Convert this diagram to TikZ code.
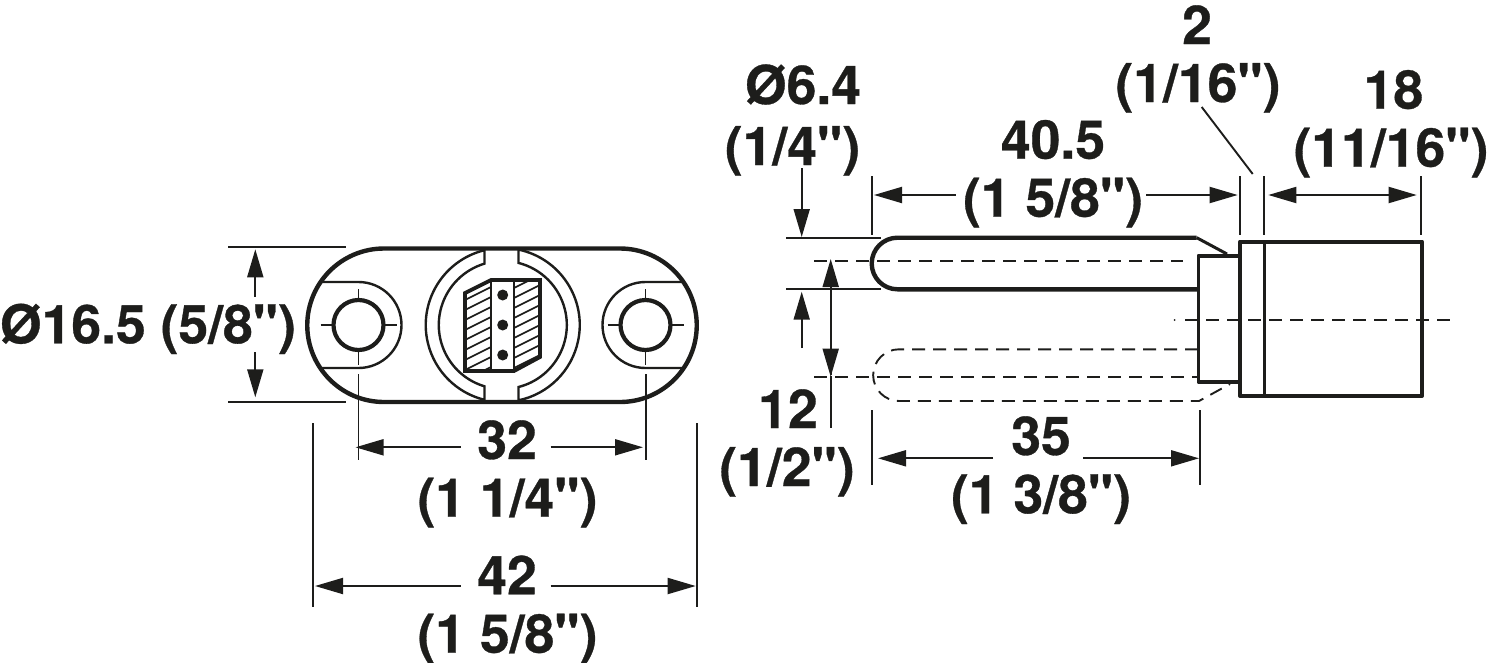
\documentclass[tikz,border=0pt]{standalone}
\usepackage{fontspec}
\newfontfamily\labfont[BoldFeatures={FakeBold=0.6}]{TeX Gyre Heros}
\usetikzlibrary{arrows.meta}
\definecolor{ink}{HTML}{1D1D1B}
\tikzset{
  thick line/.style={line width=4.4pt,line join=round,color=ink},
  mid line/.style={line width=2.4pt,color=ink},
  thin line/.style={line width=1.9pt,color=ink},
  dim/.style={line width=1.9pt,color=ink,-{Triangle[length=28pt,width=16pt]}},
  dashline/.style={line width=1.9pt,color=ink,dash pattern=on 13pt off 8pt},
  lab/.style={anchor=base,inner sep=0pt,outer sep=0pt,text=ink,font=\fontsize{53.5pt}{53.5pt}\labfont\bfseries},
}
\begin{document}
\begin{tikzpicture}[x=1pt,y=-1pt]
\useasboundingbox (0,0) rectangle (1488,662);
% ---- left view: plate
\draw[thick line] (384,248.5) -- (620,248.5) arc[start angle=-90,end angle=90,radius=76.75] -- (384,402) arc[start angle=90,end angle=270,radius=76.75] -- cycle;
% counterbores
\draw[mid line] (320,282) -- (358.5,282) arc[start angle=-90,end angle=90,radius=43] -- (320,368);
\draw[mid line] (684,282) -- (645.5,282) arc[start angle=-90,end angle=-270,radius=43] -- (684,368);
% holes
\draw[line width=4.2pt,color=ink] (358.5,325) circle[radius=25];
\draw[line width=4.2pt,color=ink] (645.5,325) circle[radius=25];
% ticks
\foreach \c in {358.5,645.5}{
  \draw[thin line] (\c-38,325) -- (\c-26,325);
  \draw[thin line] (\c+26,325) -- (\c+38,325);
  \draw[thin line] (\c,289) -- (\c,299);
  \draw[thin line] (\c,351) -- (\c,365);
}
% centre rings
\begin{scope}[shift={(502.8,325)}]
\draw[mid line] (-18.3,-74.8) arc[start angle=256.3,end angle=103.7,radius=77] -- (-18.3,61.3) arc[start angle=106.6,end angle=253.4,radius=64] -- cycle;
\draw[mid line] (15.7,-75.4) arc[start angle=-78.2,end angle=78.2,radius=77] -- (15.7,62) arc[start angle=75.8,end angle=-75.8,radius=64] -- cycle;
\end{scope}
% hatching
\begin{scope}
\clip (465,293) -- (491,280) -- (491,371) -- (465,371) -- cycle;
\foreach \y in {300,310,...,390}{\draw[line width=1.6pt,color=ink] (460,\y+2.5) -- (495,\y-15);}
\end{scope}
\begin{scope}
\clip (514,280) -- (540,280) -- (540,357) -- (514,371) -- cycle;
\foreach \y in {288,298,...,378}{\draw[line width=1.6pt,color=ink] (510,\y+2) -- (545,\y-15.5);}
\end{scope}
\draw[line width=3.8pt,color=ink,line join=miter] (465,293) -- (491,280) -- (540,280) -- (540,357) -- (514,371) -- (465,371) -- cycle;
\draw[mid line] (491,280) -- (491,371) (514,280) -- (514,371);
\fill[ink] (502.7,295) circle[radius=5.5] (502.7,325) circle[radius=5.5] (502.7,355) circle[radius=5.5];
% left dimensions
\draw[thin line] (228,247.3) -- (346,247.3) (228,402) -- (346,402);
\draw[dim] (255.3,296.7) -- (255.3,249.3);
\draw[dim] (255.3,352.3) -- (255.3,397.3);
\draw[thin line] (358.5,374) -- (358.5,459.7) (645.7,374) -- (645.7,459.7);
\draw[dim] (460.7,447.3) -- (355.5,447.3);
\draw[dim] (550.7,447.3) -- (643,447.3);
\draw[thin line] (312.7,423) -- (312.7,607) (696.7,423) -- (696.7,607);
\draw[dim] (460.7,586) -- (315,586);
\draw[dim] (550.7,586) -- (695.7,586);
% ---- right view: centre and phantom lines
\draw[dashline] (814,261) -- (1183,261);
\draw[dashline] (814,376.7) -- (1198,376.7);
\draw[dashline] (1185,320) -- (1452,320);
\fill[ink] (1174.5,320) circle[radius=1];
% pin
\draw[thick line,line cap=butt] (1196.7,237.7) -- (897.5,237.7) arc[start angle=-90,end angle=-270,radius=25.8] -- (1198,289.3);
\draw[mid line,line width=3pt] (1196.7,237.7) -- (1227,254);
% phantom pin
\draw[dashline] (1198,349.3) -- (899,349.3) arc[start angle=-90,end angle=-270,radius=25.85] -- (1199,401) -- (1230,384);
% collar
\draw[line width=3.6pt,color=ink,line join=round] (1240,255.7) -- (1198.3,255.7) -- (1198.3,382) -- (1240,382);
% body
\draw[thick line] (1240,241.7) rectangle (1422,395.7);
\draw[mid line] (1264.3,241.7) -- (1264.3,395.7);
% right dimensions
\draw[thin line] (786,237.7) -- (881,237.7) (786,289.3) -- (881,289.3);
\draw[dim] (801.7,168) -- (801.7,237);
\draw[dim] (801.7,348) -- (801.7,291.7);
\draw[dim] (830.7,375) -- (830.7,259);
\draw[dim] (830.7,292) -- (830.7,376.7);
\draw[thin line] (830.7,376) -- (830.7,428);
\draw[thin line] (871.7,176) -- (871.7,235) (1240.3,176) -- (1240.3,235) (1264,176) -- (1264,235) (1420.7,176) -- (1420.7,235);
\draw[dim] (955.7,195) -- (874,195);
\draw[dim] (1146,195) -- (1237.7,195);
\draw[dim] (1342,195) -- (1268.3,195);
\draw[dim] (1342,195) -- (1416.7,195);
\draw[thin line] (1201.7,107) -- (1252.7,174);
\draw[thin line] (871.7,410) -- (871.7,485) (1199.7,410) -- (1199.7,485);
\draw[dim] (993,458.3) -- (878,458.3);
\draw[dim] (1083,458.3) -- (1199,458.3);
% ---- labels
\node[lab,anchor=base west] (d165) at (0,343.3) {Ø16.5 (5/8")};
\node[lab] (d32) at (507,459) {32};
\node[lab] (i32) at (507.5,516.7) {(1 1/4")};
\node[lab] (d42) at (507,594.3) {42};
\node[lab] (i42) at (507.5,652.7) {(1 5/8")};
\node[lab] (d64) at (803,104) {Ø6.4};
\node[lab] (i64) at (792.5,165) {(1/4")};
\node[lab] (d405) at (1053,158.7) {40.5};
\node[lab] (i405) at (1053,216.7) {(1 5/8")};
\node[lab] (d2) at (1197,44) {2};
\node[lab] (i2) at (1198,102) {(1/16")};
\node[lab] (d18) at (1393.5,108.7) {18};
\node[lab] (i18) at (1391,166.7) {(11/16")};
\node[lab] (d12) at (788,428) {12};
\node[lab] (i12) at (787,486) {(1/2")};
\node[lab] (d35) at (1041,455) {35};
\node[lab] (i35) at (1041,513.3) {(1 3/8")};
\end{tikzpicture}
\end{document}
